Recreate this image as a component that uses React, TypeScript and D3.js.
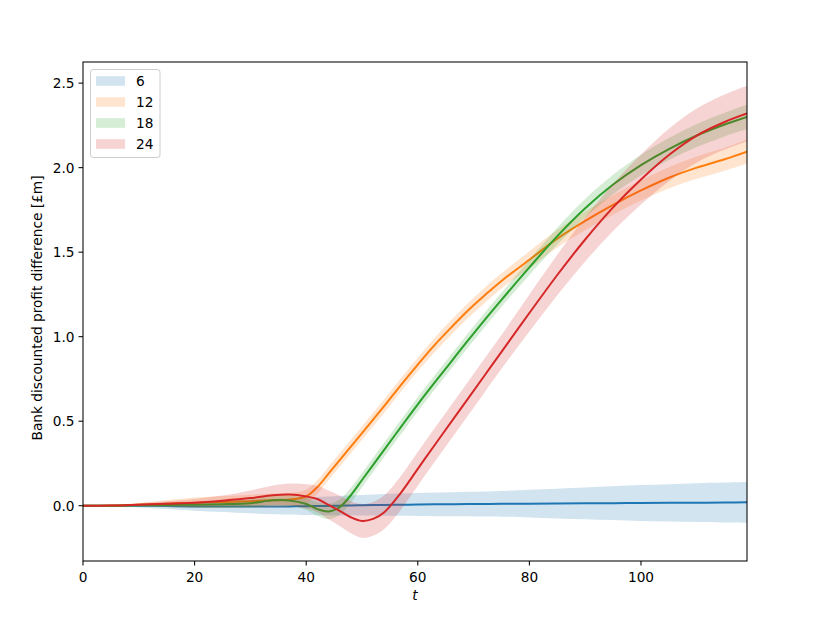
import { scaleLinear, line, area, curveCatmullRom, format } from "d3";

// time grid the values were read at
const T = [0, 5, 10, 15, 20, 25, 30, 34, 37, 40, 42, 44, 46, 48, 50, 52, 54, 57, 60, 63, 66, 69, 72, 75, 80, 85, 90, 95, 100, 105, 110, 115, 119];

const labels = ["6", "12", "18", "24"];
const colors = ["#1f77b4", "#ff7f0e", "#2ca02c", "#d62728"];

const mean6 = [0, 0, 0, -0.002, -0.004, -0.005, -0.005, -0.005, -0.004, -0.003, -0.002, -0.001, 0, 0.002, 0.003, 0.004, 0.005, 0.006, 0.007, 0.008, 0.009, 0.01, 0.01, 0.011, 0.012, 0.013, 0.014, 0.015, 0.016, 0.017, 0.018, 0.019, 0.02];
const sd6 = [0, 0.002, 0.01, 0.018, 0.025, 0.032, 0.04, 0.045, 0.048, 0.052, 0.054, 0.056, 0.058, 0.06, 0.061, 0.062, 0.064, 0.066, 0.068, 0.07, 0.071, 0.072, 0.074, 0.076, 0.082, 0.088, 0.094, 0.1, 0.106, 0.11, 0.115, 0.118, 0.12];

const mean12 = [0, 0.001, 0.006, 0.012, 0.018, 0.022, 0.027, 0.032, 0.036, 0.055, 0.11, 0.19, 0.27, 0.35, 0.43, 0.51, 0.59, 0.715, 0.835, 0.95, 1.055, 1.155, 1.245, 1.33, 1.455, 1.58, 1.685, 1.78, 1.865, 1.94, 2.0, 2.05, 2.095];
const sd12 = [0, 0.003, 0.01, 0.02, 0.03, 0.035, 0.038, 0.04, 0.04, 0.04, 0.04, 0.04, 0.04, 0.04, 0.04, 0.04, 0.04, 0.04, 0.04, 0.042, 0.043, 0.044, 0.045, 0.045, 0.05, 0.052, 0.055, 0.058, 0.06, 0.063, 0.066, 0.068, 0.07];

const mean18 = [0, 0, 0.003, 0.005, 0.006, 0.009, 0.015, 0.032, 0.031, 0.01, -0.02, -0.034, -0.008, 0.062, 0.152, 0.242, 0.332, 0.467, 0.6, 0.728, 0.853, 0.978, 1.1, 1.218, 1.41, 1.595, 1.76, 1.9, 2.015, 2.11, 2.19, 2.255, 2.3];
const sd18 = [0, 0.002, 0.008, 0.012, 0.016, 0.02, 0.024, 0.028, 0.03, 0.035, 0.04, 0.045, 0.045, 0.045, 0.042, 0.042, 0.042, 0.042, 0.042, 0.042, 0.042, 0.042, 0.042, 0.042, 0.045, 0.05, 0.055, 0.058, 0.062, 0.065, 0.068, 0.07, 0.072];

const mean24 = [0, 0.001, 0.006, 0.012, 0.018, 0.03, 0.045, 0.062, 0.066, 0.055, 0.04, 0.005, -0.03, -0.068, -0.09, -0.078, -0.038, 0.078, 0.218, 0.358, 0.496, 0.634, 0.772, 0.91, 1.14, 1.365, 1.575, 1.765, 1.93, 2.075, 2.19, 2.27, 2.32];
const sd24 = [0, 0.002, 0.008, 0.015, 0.022, 0.03, 0.045, 0.058, 0.065, 0.072, 0.078, 0.085, 0.09, 0.095, 0.1, 0.1, 0.1, 0.1, 0.1, 0.1, 0.1, 0.1, 0.1, 0.1, 0.11, 0.12, 0.13, 0.14, 0.148, 0.155, 0.16, 0.163, 0.165];

const means = [mean6, mean12, mean18, mean24];
const sds = [sd6, sd12, sd18, sd24];

const xTicks = [0, 20, 40, 60, 80, 100];
const yTicks = [0, 0.5, 1.0, 1.5, 2.0, 2.5];

const W = 830;
const H = 623;
const left = 83;
const right = 747;
const top = 62;
const bottom = 561;
const font = "DejaVu Sans, sans-serif";
const fs = 13.7;

export default function App() {
  const x = scaleLinear().domain([0, 119]).range([left, right]);
  const y = scaleLinear().domain([-0.327, 2.625]).range([bottom, top]);
  const fmt = format(".1f");

  const lineGen = line<number>()
    .x((_d, i) => x(T[i]))
    .y((d) => y(d))
    .curve(curveCatmullRom.alpha(0.5));

  return (
    <div style={{ position: "absolute", left: 0, top: 0 }}>
      <svg width={W} height={H} viewBox={`0 0 ${W} ${H}`} style={{ display: "block", background: "#fff" }}>
        <defs>
          <clipPath id="plot">
            <rect x={left} y={top} width={right - left} height={bottom - top} />
          </clipPath>
        </defs>
        <g clipPath="url(#plot)">
          {means.map((m, k) => {
            const bandGen = area<number>()
              .x((_d, i) => x(T[i]))
              .y0((d, i) => y(d - sds[k][i]))
              .y1((d, i) => y(d + sds[k][i]))
              .curve(curveCatmullRom.alpha(0.5));
            return (
              <g key={k}>
                <path d={lineGen(m) || ""} fill="none" stroke={colors[k]} strokeWidth={2} />
                <path d={bandGen(m) || ""} fill={colors[k]} fillOpacity={0.2} stroke="none" />
              </g>
            );
          })}
        </g>

        {/* spines */}
        <rect x={left} y={top} width={right - left} height={bottom - top} fill="none" stroke="#000" strokeWidth={1.04} />

        {/* x axis */}
        {xTicks.map((t) => (
          <g key={t} transform={`translate(${x(t)},${bottom})`}>
            <line y2={4.5} stroke="#000" strokeWidth={1.04} />
            <text y={20.5} textAnchor="middle" fontFamily={font} fontSize={fs}>
              {t}
            </text>
          </g>
        ))}
        <text x={(left + right) / 2} y={600} textAnchor="middle" fontFamily={font} fontSize={fs} fontStyle="italic">
          t
        </text>

        {/* y axis */}
        {yTicks.map((v) => (
          <g key={v} transform={`translate(${left},${y(v)})`}>
            <line x2={-4.5} stroke="#000" strokeWidth={1.04} />
            <text x={-8.5} dy="0.36em" textAnchor="end" fontFamily={font} fontSize={fs}>
              {fmt(v)}
            </text>
          </g>
        ))}
        <text
          transform={`translate(42,308) rotate(-90)`}
          textAnchor="middle"
          fontFamily={font}
          fontSize={fs}
        >
          Bank discounted profit difference [£m]
        </text>

        {/* legend */}
        <rect x={90.5} y={69.5} width={69.5} height={88} rx={2.6} fill="#fff" fillOpacity={0.8} stroke="#cccccc" strokeWidth={1} />
        {labels.map((lab, k) => (
          <g key={lab} transform={`translate(96,${81 + k * 21})`}>
            <rect x={0} y={-4.8} width={29} height={9.6} fill={colors[k]} fillOpacity={0.2} />
            <text x={40} dy="0.36em" fontFamily={font} fontSize={fs}>
              {lab}
            </text>
          </g>
        ))}
      </svg>
    </div>
  );
}
